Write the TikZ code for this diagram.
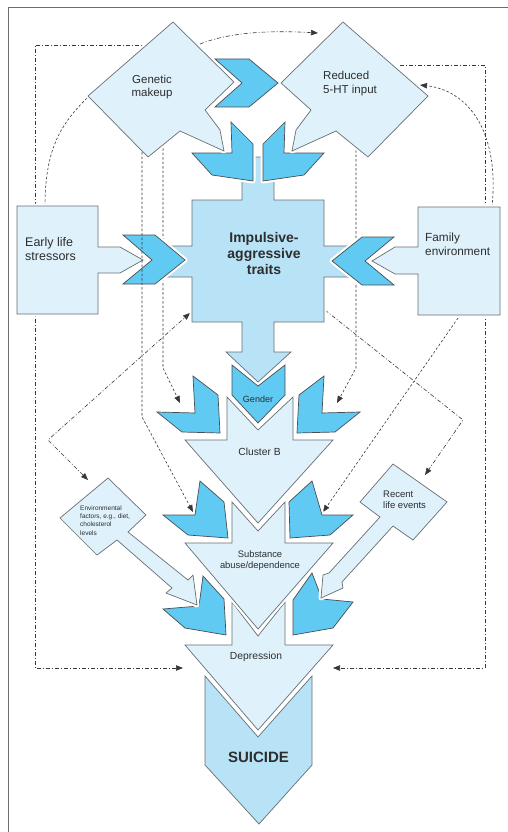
\documentclass[tikz,border=0pt]{standalone}
\usepackage{fontspec}
\setmainfont{Liberation Sans}
\usetikzlibrary{arrows.meta}
\definecolor{paleBlue}{RGB}{223,242,252}
\definecolor{midBlue}{RGB}{184,227,247}
\definecolor{deepBlue}{RGB}{96,202,243}
\definecolor{edgeGray}{RGB}{105,110,115}
\definecolor{lineGray}{RGB}{55,55,55}
\definecolor{textGray}{RGB}{45,45,45}
\tikzset{
    % Shape Styles (white halo keeps a gap where shapes meet)
    halo/.style={preaction={draw=white, line width=5pt, line join=round}},
    paleShape/.style={fill=paleBlue, draw=edgeGray, line width=0.7pt, halo},
    midShape/.style={fill=midBlue, draw=edgeGray, line width=0.7pt, halo},
    chevron/.style={fill=deepBlue, draw=edgeGray!70!black, line width=0.7pt, halo},
    % Text Style
    txt/.style={inner sep=0pt, text=textGray, align=center},
    % Connector Styles
    link/.style={draw=lineGray, line width=0.6pt, dash pattern=on 2.5pt off 2pt},
    linkDot/.style={draw=lineGray, line width=0.6pt, dash pattern=on 4pt off 2pt on 1pt off 2pt},
    arrowEnd/.style={-{Triangle[length=7pt,width=5.5pt]}},
    arrowBoth/.style={{Triangle[length=7pt,width=5.5pt]}-{Triangle[length=7pt,width=5.5pt]}}
}
\begin{document}
\begin{tikzpicture}[x=1pt, y=-1pt]
    \useasboundingbox (0,0) rectangle (508,832);

    % --- Frame ---
    \draw[edgeGray, line width=0.8pt] (8,832) -- (8,7) -- (508,7);

    % --- Connector end points ---
    \coordinate (genArc) at (200,44);
    \coordinate (redArc) at (318,33);
    \coordinate (genLeft) at (148,45);
    \coordinate (redRight) at (400,65);
    \coordinate (railL) at (35,300);
    \coordinate (railR) at (485,300);
    \coordinate (depLeft) at (183,668);
    \coordinate (depRight) at (333,668);
    \coordinate (earlyTop) at (45,206);
    \coordinate (genWest) at (88,97);
    \coordinate (familyTop) at (492,207);
    \coordinate (redEast) at (420,85);
    \coordinate (genFootA) at (142,152);
    \coordinate (genFootB) at (163,148);
    \coordinate (redFoot) at (356,150);
    \coordinate (clusterInL) at (180,403);
    \coordinate (clusterInR) at (337,403);
    \coordinate (substInL) at (193,512);
    \coordinate (substInR) at (323,512);
    \coordinate (impSW) at (190,313);
    \coordinate (impSE) at (325,310);
    \coordinate (envTop) at (88,480);
    \coordinate (recentTop) at (425,475);
    \coordinate (familyFoot) at (458,318);

    % --- Dashed links (behind the shapes) ---
    \draw[linkDot, arrowEnd] (genArc) .. controls +(35,-14) and +(-35,-2) .. (redArc);
    \draw[link] (earlyTop) .. controls +(0,-60) and +(-25,25) .. (genWest);
    \draw[link, arrowEnd] (familyTop) .. controls +(8,-80) and +(45,5) .. (redEast);
    \draw[linkDot, arrowEnd] (genLeft) -| (railL) |- (depLeft);
    \draw[linkDot, arrowEnd] (redRight) -| (railR) |- (depRight);
    \draw[link, arrowEnd] (genFootB) -- ++(0,220) -- (clusterInL);
    \draw[link, arrowEnd] (redFoot) -- ++(0,218) -- (clusterInR);
    \draw[linkDot, arrowEnd] (impSE) -- ++(138,110) -- (recentTop);
    \draw[link, arrowEnd] (familyFoot) -- (substInR);
    \draw[linkDot, arrowBoth] (envTop) -- ++(-40,-40) -- (impSW);

    % --- Bottom: Suicide and Depression ---
    \draw[midShape] (205,676) -- (258,737) -- (312,676) -- (312,765) -- (259,824) -- (205,765) -- cycle;
    \node[txt, font=\bfseries\fontsize{15}{17}\selectfont] (suicide) at (258.5,757) {SUICIDE};

    \draw[paleShape] (185,645) -- (232,645) -- (232,602) -- (258,636) -- (285,602) -- (285,645) -- (333,645) -- (258,730) -- cycle;
    \node[txt, font=\fontsize{10.3}{12}\selectfont] (depression) at (256,657) {Depression};

    \draw[chevron] (203,576) -- (224,599) -- (226,635) -- (185,628) -- (163,609) -- (199,606) -- cycle;
    \draw[chevron] (312,573) -- (293,600) -- (293,635) -- (333,628) -- (353,602) -- (322,599) -- cycle;

    % --- Side factors ---
    \draw[paleShape] (108,478) -- (146,515) -- (128,532) -- (188,580) -- (193,575) -- (197,605) -- (166,593) -- (172,588) -- (117,540) -- (97,555) -- (60,518) -- cycle;
    \node[txt, align=left, anchor=west, font=\fontsize{6.5}{8.3}\selectfont] (envfac) at (80,520.5)
        {Environmental\\factors, e.g., diet,\\cholesterol\\levels};

    \draw[paleShape] (393,464) -- (447,502) -- (413,540) -- (393,526) -- (342,582) -- (343,588) -- (321,598) -- (323,575) -- (329,573) -- (380,517) -- (360,502) -- cycle;
    \node[txt, align=left, anchor=west, font=\fontsize{9.5}{11}\selectfont] (recent) at (383,499.5)
        {Recent\\life events};

    % --- Substance abuse ---
    \draw[paleShape] (185,543) -- (232,543) -- (232,502) -- (258,531) -- (285,502) -- (285,543) -- (333,543) -- (258,629) -- cycle;
    \node[txt, font=\fontsize{9.4}{11}\selectfont] (substance) at (260,560.5) {Substance\\abuse/dependence};

    \draw[chevron] (200,481) -- (224,502) -- (228,538) -- (188,535) -- (163,515) -- (195,515) -- cycle;
    \draw[chevron] (312,481) -- (289,502) -- (290,538) -- (330,535) -- (353,515) -- (322,515) -- cycle;

    % --- Cluster B and Gender ---
    \draw[paleShape] (185,440) -- (227,440) -- (227,397) -- (258,430) -- (293,397) -- (293,440) -- (333,440) -- (258,523) -- cycle;
    \node[txt, font=\fontsize{10.3}{12}\selectfont] (clusterb) at (259.5,452) {Cluster B};

    \draw[chevron] (193,376) -- (218,395) -- (220,433) -- (182,432) -- (157,412) -- (195,413) -- cycle;
    \draw[chevron] (324,376) -- (299,395) -- (297,433) -- (335,432) -- (360,412) -- (322,413) -- cycle;

    \draw[chevron] (232,365) -- (258,386) -- (285,365) -- (285,395) -- (258,423) -- (232,395) -- cycle;
    \node[txt, font=\fontsize{9}{11}\selectfont] (gender) at (258,399) {Gender};

    % --- Impulsive-aggressive traits ---
    \draw[midShape] (242,157) -- (274,157) -- (274,200) -- (324,200) -- (324,246) -- (350,246) -- (350,277)
        -- (324,277) -- (324,322) -- (274,322) -- (274,352) -- (291,352) -- (258,382) -- (226,352)
        -- (242,352) -- (242,322) -- (192,322) -- (192,277) -- (167,277) -- (167,246) -- (192,246)
        -- (192,200) -- (242,200) -- cycle;
    \node[txt, font=\bfseries\fontsize{14}{16}\selectfont] (impulsive) at (264,253) {Impulsive-\\aggressive\\traits};

    \draw[chevron] (231,122) -- (253,144) -- (253,181) -- (212,175) -- (192,153) -- (232,153) -- cycle;
    \draw[chevron] (285,122) -- (263,144) -- (263,181) -- (304,175) -- (324,153) -- (284,153) -- cycle;
    \draw[chevron] (123,235) -- (155,235) -- (185,260) -- (155,284) -- (123,284) -- (152,260) -- cycle;
    \draw[chevron] (394,237) -- (362,237) -- (332,261) -- (362,285) -- (394,285) -- (365,261) -- cycle;

    % --- Top: Genetic makeup and 5-HT ---
    \draw[paleShape] (173,22) -- (234,82) -- (205,110) -- (220,130) -- (224,151) -- (180,131) -- (148,157) -- (88,96) -- cycle;
    \node[txt, font=\fontsize{11.5}{13.6}\selectfont] (genetic) at (152,87) {Genetic\\makeup};

    \draw[paleShape] (343,22) -- (428,96) -- (368,157) -- (336,131) -- (292,151) -- (296,130) -- (311,110) -- (281,83) -- cycle;
    \node[txt, align=left, anchor=west, font=\fontsize{11.5}{13.4}\selectfont] (reduced) at (323,83.5) {Reduced\\5-HT input};

    \draw[chevron] (215,59) -- (249,59) -- (278,83) -- (249,107) -- (215,107) -- (242,83) -- cycle;

    % --- Early life stressors / Family environment ---
    \draw[paleShape] (17,206) -- (98,206) -- (98,247) -- (120,247) -- (143,260) -- (120,273) -- (98,273) -- (98,314) -- (17,314) -- cycle;
    \node[txt, align=left, anchor=west, font=\fontsize{12.5}{14}\selectfont] (early) at (25,249) {Early life\\stressors};

    \draw[paleShape] (500,207) -- (418,207) -- (418,247) -- (395,247) -- (372,261) -- (395,274) -- (418,274) -- (418,315) -- (500,315) -- cycle;
    \node[txt, align=left, anchor=west, font=\fontsize{11.8}{14}\selectfont] (family) at (425,244) {Family\\environment};

    % --- Link drawn over the shapes ---
    \draw[link, arrowEnd] (genFootA) -- ++(0,265) -- (substInL);

\end{tikzpicture}
\end{document}
